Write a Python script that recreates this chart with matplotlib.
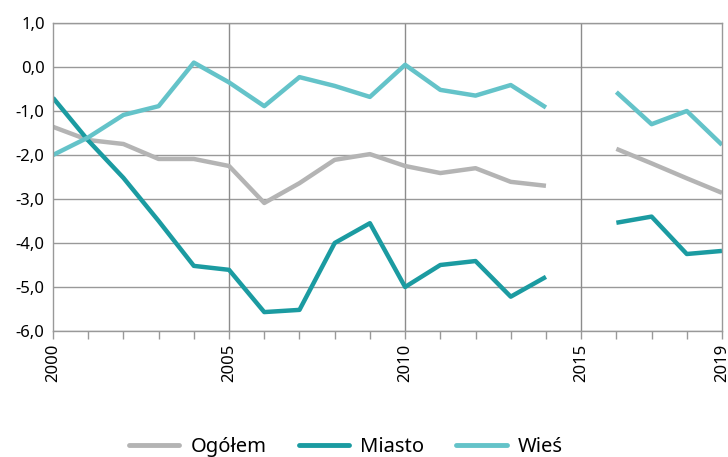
import numpy as np
import matplotlib
matplotlib.use("Agg")
import matplotlib.pyplot as plt

years = list(range(2000, 2020))
nan = float("nan")
ogolem = [-1.36, -1.66, -1.75, -2.09, -2.09, -2.25, -3.09, -2.64, -2.11, -1.98,
          -2.25, -2.41, -2.30, -2.61, -2.70, nan, -1.86, -2.19, -2.53, -2.86]
miasto = [-0.70, -1.67, -2.52, -3.50, -4.52, -4.61, -5.57, -5.52, -4.00, -3.55,
          -5.00, -4.50, -4.41, -5.22, -4.77, nan, -3.54, -3.40, -4.25, -4.18]
wies = [-2.00, -1.60, -1.09, -0.89, 0.10, -0.35, -0.89, -0.23, -0.43, -0.68,
        0.05, -0.52, -0.65, -0.41, -0.92, nan, -0.57, -1.30, -1.00, -1.77]
series_names = ["Ogółem", "Miasto", "Wieś"]
ytick_vals = [1, 0, -1, -2, -3, -4, -5, -6]
ytick_labels = ["1,0", "0,0", "-1,0", "-2,0", "-3,0", "-4,0", "-5,0", "-6,0"]
xtick_major = [2000, 2005, 2010, 2015, 2019]

plt.rcParams['font.family'] = ['Noto Sans', 'DejaVu Sans']

fig = plt.figure(figsize=(7.28, 4.57), dpi=100)
ax = fig.add_axes([53/728, 1 - 331/457, (722-53)/728, (331-23)/457])

colors = ["#b4b4b4", "#1b9ba1", "#64c3c9"]
for vals, name, c in zip([ogolem, miasto, wies], series_names, colors):
    ax.plot(years, vals, color=c, lw=3.2, label=name, solid_capstyle='butt')

ax.set_xlim(2000, 2019)
ax.set_ylim(-6, 1)
ax.set_yticks(ytick_vals)
ax.set_yticklabels(ytick_labels, fontsize=12)
ax.tick_params(axis='y', length=0, pad=6)
ax.set_xticks(xtick_major)
ax.set_xticklabels([str(y) for y in xtick_major], rotation=90, fontsize=12)
ax.set_xticks(years, minor=True)
ax.tick_params(axis='x', which='both', direction='out', length=6, color='#999999', width=1, pad=3)

for y in ytick_vals:
    ax.axhline(y, color='#999999', lw=1, zorder=0)
for x in [2005, 2010, 2015]:
    ax.axvline(x, color='#8c8c8c', lw=1, zorder=0)
for s in ax.spines.values():
    s.set_color('#999999')
    s.set_linewidth(1)

leg = fig.legend(loc='lower center', bbox_to_anchor=(0.475, -0.04), ncol=3, frameon=False,
                 fontsize=14.5, handlelength=2.5, columnspacing=1.6, handletextpad=0.55)
for line in leg.get_lines():
    line.set_linewidth(3.5)
    line.set_solid_capstyle('round')

fig.savefig("out.png", dpi=100)
